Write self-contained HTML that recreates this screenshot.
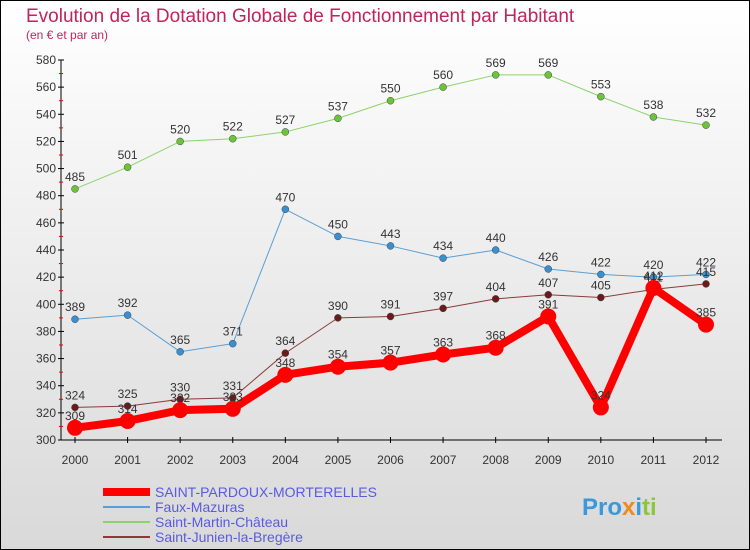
<!DOCTYPE html>
<html><head><meta charset="utf-8"><style>
html,body{margin:0;padding:0}
body{width:750px;height:550px;overflow:hidden;font-family:"Liberation Sans",sans-serif}
svg{display:block}
</style></head><body>
<svg id="c" width="750" height="550" xmlns="http://www.w3.org/2000/svg">
<defs><linearGradient id="bg" x1="0" y1="0" x2="0" y2="1"><stop offset="0" stop-color="#ffffff"/><stop offset="1" stop-color="#d9d9d9"/></linearGradient></defs>
<rect x="0.5" y="0.5" width="749" height="549" fill="url(#bg)" stroke="#000"/>
<text x="26" y="22" font-size="19" fill="#c0245a">Evolution de la Dotation Globale de Fonctionnement par Habitant</text>
<text x="26" y="39" font-size="12" fill="#c0245a">(en € et par an)</text>
<g id="axes"></g><g id="series"></g><g id="legend"></g>
<text x="582" y="515" font-size="24" font-weight="bold" fill="#3a9ad9">Pro<tspan fill="#f08a1c">x</tspan>i<tspan fill="#8cc63f">ti</tspan></text>
</svg>
<script>
const years=[2000,2001,2002,2003,2004,2005,2006,2007,2008,2009,2010,2011,2012];
const yTicks=[300,320,340,360,380,400,420,440,460,480,500,520,540,560,580];
const sPardoux=[309,314,322,323,348,354,357,363,368,391,324,412,385];
const sFaux=[389,392,365,371,470,450,443,434,440,426,422,420,422];
const sMartin=[485,501,520,522,527,537,550,560,569,569,553,538,532];
const sJunien=[324,325,330,331,364,390,391,397,404,407,405,411,415];
const names=["SAINT-PARDOUX-MORTERELLES","Faux-Mazuras","Saint-Martin-Château","Saint-Junien-la-Bregère"];
const NS="http://www.w3.org/2000/svg";
const X=i=>75+i*(706-75)/(years.length-1);
const Y=v=>440-(v-300)*(380/280);
function mk(t,a,p){const e=document.createElementNS(NS,t);for(const k in a)e.setAttribute(k,a[k]);p.appendChild(e);return e;}
const ax=document.getElementById('axes');
const yl=mk('line',{x1:61,y1:60,x2:61,y2:440,stroke:'#000'},ax);


const xl=mk('line',{x1:61,y1:440,x2:722,y2:440,stroke:'#000'},ax);


yTicks.forEach((v,i)=>{
  mk('line',{x1:58,x2:64,y1:Y(v),y2:Y(v),stroke:'#000'},ax);
  if(i<yTicks.length-1) mk('line',{x1:59,x2:63,y1:Y(v+10),y2:Y(v+10),stroke:'#e00'},ax);
  const t=mk('text',{x:56,y:Y(v)+4,'font-size':12,'text-anchor':'end',fill:'#333'},ax);
  t.textContent=v;
  
  
});
years.forEach((y,i)=>{
  mk('line',{x1:X(i),x2:X(i),y1:437,y2:443,stroke:'#000'},ax);
  const t=mk('text',{x:X(i),y:464,'font-size':12,'text-anchor':'middle',fill:'#333'},ax);
  t.textContent=y;
  
  
});
const sg=document.getElementById('series');
const defs=[[sMartin,'#8cd36a','#6bc43a',1,3.5],[sFaux,'#5a9fd4','#3a8fd0',1,3.5],[sJunien,'#8b3a3a','#6b1a1a',1,3.5],[sPardoux,'#ff0000','#ff0000',8,8]];
const order=[2,1,3,0];
defs.forEach((d,k)=>{
  const [vals,lc,pc,w,r]=d;
  const g=mk('g',{},sg);
  
  
  mk('polyline',{points:vals.map((v,i)=>X(i)+','+Y(v)).join(' '),fill:'none',stroke:lc,'stroke-width':w,'stroke-linejoin':'round'},g);
  vals.forEach((v,i)=>{
    const c=mk('circle',{cx:X(i),cy:Y(v),r:r,fill:pc,stroke:w>1?'none':'#444','stroke-width':0.5},g);
    
    
    const t=mk('text',{x:X(i),y:Y(v)-8,'font-size':12,'text-anchor':'middle',fill:'#333'},g);
    t.textContent=v;
    
    
  });
});
const lg=document.getElementById('legend');
const lcols=['#ff0000','#5a9fd4','#8cd36a','#8b3a3a'];
names.forEach((n,i)=>{
  const y=492+i*15;
  const g=mk('g',{},lg);
  
  
  mk('line',{x1:103,x2:150,y1:y,y2:y,stroke:lcols[i],'stroke-width':i==0?8:2},g);
  const t=mk('text',{x:155,y:y+5,'font-size':14,fill:'#5a5ae0'},g);
  t.textContent=n;
});
</script>
</body></html>
